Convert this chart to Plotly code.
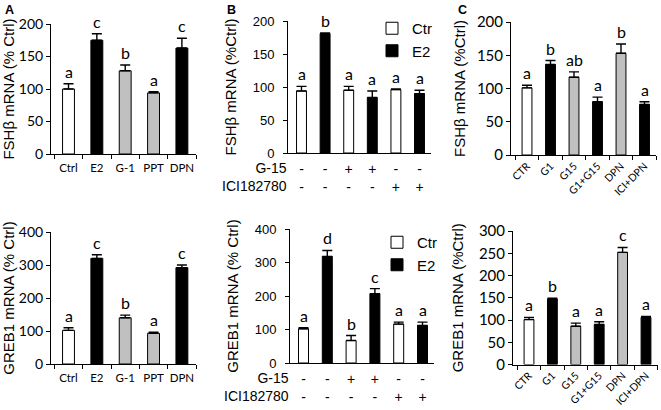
import plotly.graph_objects as go

W, H = 661, 410

# ---------------- data ----------------
# Panel A
a_labels = ["Ctrl", "E2", "G-1", "PPT", "DPN"]
a_fsh = [100, 175, 128, 94, 163]
a_fsh_err = [8, 10, 9, 2, 15]
a_fsh_sig = ["a", "c", "b", "a", "c"]
a_greb = [102, 320, 140, 93, 292]
a_greb_err = [8, 11, 8, 3, 8]
a_greb_sig = ["a", "c", "b", "a", "c"]

# Panel B
b_treat = ["Ctr", "E2", "Ctr", "E2", "Ctr", "E2"]
b_rows = ["G-15", "ICI182780"]
b_g15 = ["-", "-", "+", "+", "-", "-"]
b_ici = ["-", "-", "-", "-", "+", "+"]
b_fsh = [94, 181, 95, 84, 96, 90]
b_fsh_err = [7, 1, 6, 10, 1, 5]
b_fsh_sig = ["a", "b", "a", "a", "a", "a"]
b_greb = [102, 318, 67, 207, 116, 112]
b_greb_err = [3, 18, 15, 15, 6, 10]
b_greb_sig = ["a", "d", "b", "c", "a", "a"]

# Panel C
c_labels = ["CTR", "G1", "G15", "G1+G15", "DPN", "ICI+DPN"]
c_fsh = [101, 136, 117, 80, 153, 76]
c_fsh_err = [4, 6, 8, 7, 14, 4]
c_fsh_sig = ["a", "b", "ab", "a", "b", "a"]
c_greb = [101, 147, 86, 90, 252, 106]
c_greb_err = [5, 2, 7, 6, 11, 2]
c_greb_sig = ["a", "b", "a", "a", "c", "a"]

# ---------------- styles ----------------
WHITE, BLACK, GRAY = "#ffffff", "#000000", "#c0c0c0"
a_fill = {"Ctrl": WHITE, "E2": BLACK, "G-1": GRAY, "PPT": GRAY, "DPN": BLACK}
c_fill = {"CTR": WHITE, "G1": BLACK, "G15": GRAY, "G1+G15": BLACK,
          "DPN": GRAY, "ICI+DPN": BLACK}
b_fill = {"Ctr": WHITE, "E2": BLACK}
LATO = "Lato, Carlito, sans-serif"
ARIAL = "Liberation Sans, Arial, sans-serif"

fig = go.Figure()


def px_x(p):
    return p / W


def px_y(p):
    return 1 - p / H


# panel geometry (pixels)
panels = {
    # name: (left, first_center, spacing, n, ytop_px, ybottom_px)
    "A1": (51, 68.5, 28.35, 5, 24, 154),
    "A2": (51, 68.5, 28.35, 5, 232, 364),
    "B1": (288, 301.5, 23.6, 6, 21, 153),
    "B2": (290, 303.5, 23.8, 6, 229, 363),
    "C1": (511, 527, 23.5, 6, 22, 155),
    "C2": (513, 529, 23.4, 6, 231, 364.5),
}
axis_ids = {"A1": 1, "A2": 2, "B1": 3, "B2": 4, "C1": 5, "C2": 6}


def ax_names(key):
    i = axis_ids[key]
    s = "" if i == 1 else str(i)
    return "x" + s, "y" + s, "xaxis" + s, "yaxis" + s


def add_panel(key, xcats, vals, errs, sig, fills, ymax, dtick, ytitle,
              tickfont, numfont, angle=0, trace_names=None, legend=None,
              ytitle_standoff=2, ystand=0):
    L, c0, s, n, yt, yb = panels[key]
    xr, yr, xa, ya = ax_names(key)
    ebar = dict(type="data", symmetric=False, color=BLACK,
                thickness=1.4, width=5)
    if trace_names is None:
        fig.add_trace(go.Bar(
            x=xcats, y=vals, xaxis=xr, yaxis=yr, width=0.42,
            marker=dict(color=[fills[c] for c in xcats],
                        line=dict(color=BLACK, width=1)),
            error_y=dict(array=errs, arrayminus=[0] * len(errs), **ebar),
            showlegend=False, hoverinfo="skip"))
        ann_x = list(xcats)
    else:
        for tn in ["Ctr", "E2"]:
            idx = [i for i, t in enumerate(trace_names) if t == tn]
            fig.add_trace(go.Bar(
                x=idx, y=[vals[i] for i in idx], xaxis=xr, yaxis=yr,
                width=0.42, name=tn, legend=legend,
                marker=dict(color=fills[tn], line=dict(color=BLACK, width=1)),
                error_y=dict(array=[errs[i] for i in idx],
                             arrayminus=[0] * len(idx), **ebar),
                showlegend=True, hoverinfo="skip"))
        ann_x = list(range(len(vals)))
    for xv, v, e, t in zip(ann_x, vals, errs, sig):
        fig.add_annotation(x=xv, y=v + e, xref=xr, yref=yr, text=t,
                           showarrow=False, yanchor="bottom", yshift=1,
                           font=dict(family=LATO, size=16, color=BLACK))
    lo = (L - c0) / s
    right = c0 + s * (n - 0.5)
    fig.layout[xa] = dict(
        domain=[px_x(L), px_x(right)], anchor=yr, automargin=False,
        range=[lo, n - 0.5], showline=True, linecolor=BLACK, linewidth=1,
        showgrid=False, zeroline=False, tickangle=angle,
        tickfont=dict(family=tickfont[0], size=tickfont[1], color=BLACK),
        fixedrange=True)
    fig.layout[ya] = dict(
        domain=[px_y(yb), px_y(yt)], anchor=xr, range=[0, ymax],
        automargin=False,
        dtick=dtick, tick0=0, showline=True, linecolor=BLACK, linewidth=1,
        ticks="outside", ticklen=4, tickcolor=BLACK, showgrid=False,
        zeroline=False, ticklabelstandoff=ystand,
        tickfont=dict(family=numfont[0], size=numfont[1], color=BLACK),
        title=dict(text=ytitle, standoff=ytitle_standoff,
                   font=dict(family=ARIAL, size=15, color=BLACK)),
        fixedrange=True)


add_panel("A1", a_labels, a_fsh, a_fsh_err, a_fsh_sig, a_fill, 200, 50,
          "FSHβ mRNA (% Ctrl)", (LATO, 11.5), (LATO, 14),
          ytitle_standoff=7)
add_panel("A2", a_labels, a_greb, a_greb_err, a_greb_sig, a_fill, 400, 100,
          "GREB1 mRNA (% Ctrl)", (LATO, 11.5), (LATO, 14),
          ytitle_standoff=7)
add_panel("B1", None, b_fsh, b_fsh_err, b_fsh_sig, b_fill, 200, 50,
          "FSHβ mRNA (%Ctrl)", (ARIAL, 14), (ARIAL, 13),
          trace_names=b_treat, legend="legend", ystand=6,
          ytitle_standoff=12)
add_panel("B2", None, b_greb, b_greb_err, b_greb_sig, b_fill, 400, 100,
          "GREB1 mRNA (% Ctrl)", (ARIAL, 14), (ARIAL, 13),
          trace_names=b_treat, legend="legend2", ystand=6,
          ytitle_standoff=12)
add_panel("C1", c_labels, c_fsh, c_fsh_err, c_fsh_sig, c_fill, 200, 50,
          "FSHβ mRNA (%Ctrl)", (LATO, 10.5), (LATO, 15), angle=-45,
          ytitle_standoff=7)
add_panel("C2", c_labels, c_greb, c_greb_err, c_greb_sig, c_fill, 300, 50,
          "GREB1 mRNA (%Ctrl)", (LATO, 10.5), (LATO, 15), angle=-45,
          ytitle_standoff=11)

# category axes with ticks between categories (A and C)
for key in ["A1", "A2", "C1", "C2"]:
    xa = ax_names(key)[2]
    fig.layout[xa].update(type="category", ticks="outside",
                          tickson="boundaries", ticklen=4, tickcolor=BLACK,
                          ticklabelstandoff=3 if key[0] == "A" else 0)

# panel B: the +/- treatment grid as two-line tick labels, row names at left
b_ticktext = [f"{g}<br>{i}" for g, i in zip(b_g15, b_ici)]
for key in ["B1", "B2"]:
    xr, yr, xa, ya = ax_names(key)
    L, c0, s, n, yt, yb = panels[key]
    fig.layout[xa].update(tickmode="array",
                          tickvals=list(range(len(b_ticktext))),
                          ticktext=b_ticktext, ticks="", ticklabelstandoff=3)
    fig.add_annotation(x=px_x(L + 1), y=px_y(yb + 15 + 9.1),
                       xref="paper", yref="paper", text="<br>".join(b_rows),
                       showarrow=False, xanchor="right", yanchor="middle",
                       align="right",
                       font=dict(family=ARIAL, size=14, color=BLACK))

# panel letters
for lab, xp in [("A", 3), ("B", 225), ("C", 456)]:
    fig.add_annotation(x=px_x(xp), y=px_y(1), xref="paper", yref="paper",
                       text=f"<b>{lab}</b>", showarrow=False, xanchor="left",
                       yanchor="top",
                       font=dict(family=ARIAL, size=12.5, color=BLACK))

legend_style = dict(font=dict(family=ARIAL, size=15, color=BLACK),
                    bgcolor="rgba(0,0,0,0)", xanchor="left", yanchor="top",
                    tracegroupgap=0, itemwidth=30, traceorder="normal")
fig.update_layout(
    width=W, height=H, margin=dict(l=0, r=0, t=0, b=0, autoexpand=False),
    paper_bgcolor="white", plot_bgcolor="white", barmode="overlay",
    legend=dict(x=px_x(372), y=px_y(12), **legend_style),
    legend2=dict(x=px_x(377), y=px_y(226), **legend_style),
)

fig.write_html("out.html", config={"displayModeBar": False},
               post_script="document.body.style.margin='0';"
                           "document.body.style.padding='0';")
